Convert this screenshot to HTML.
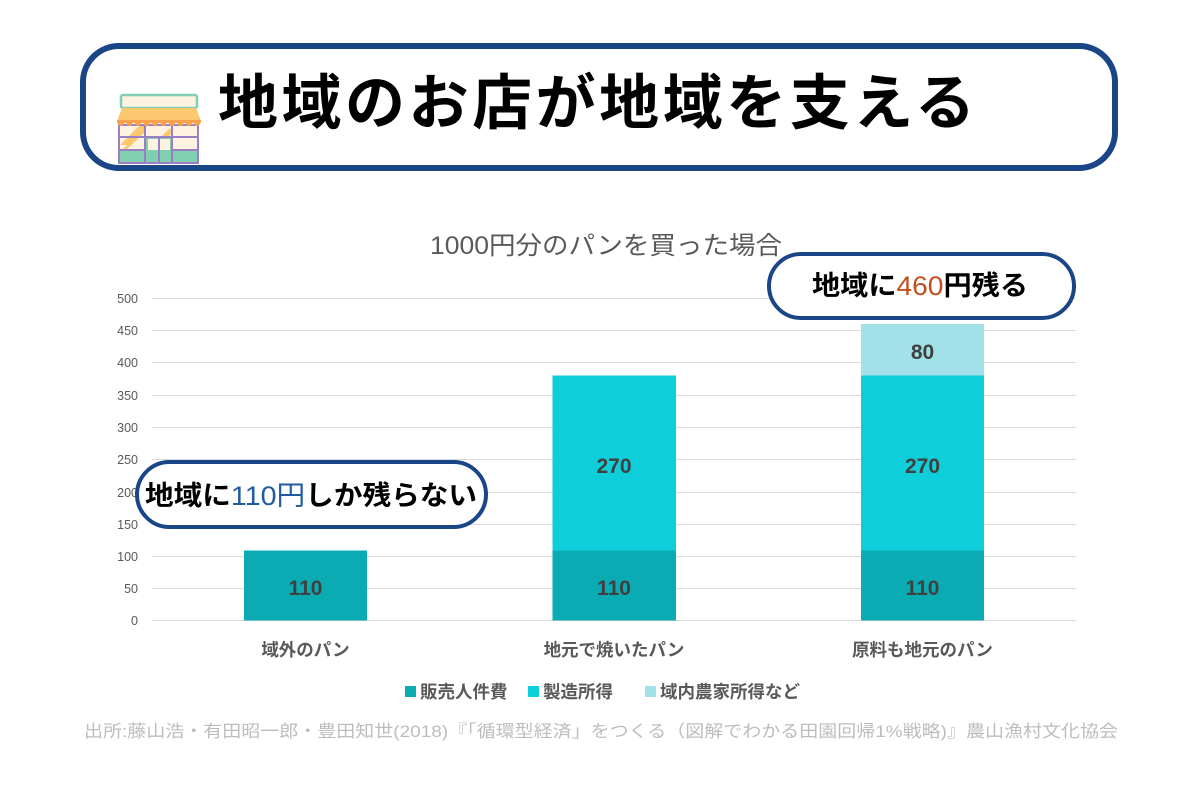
<!DOCTYPE html>
<html><head><meta charset="utf-8"><style>
html,body{margin:0;padding:0;background:#fff;}
svg{display:block;}
text{font-family:"Liberation Sans","Noto Sans CJK JP",sans-serif;}
.cjk{font-family:"Noto Sans CJK JP","Liberation Sans",sans-serif;}
</style></head><body>
<svg width="1200" height="800" viewBox="0 0 1200 800" xmlns="http://www.w3.org/2000/svg">
<rect width="1200" height="800" fill="#fff"/>
<!-- Title box -->
<rect x="83" y="46" width="1032" height="122" rx="36" ry="36" fill="#fff" stroke="#1a4587" stroke-width="6"/>
<!-- store icon -->
<g>
  <rect x="121" y="95" width="76" height="13" rx="2" fill="#fdf3e0" stroke="#7fcfb0" stroke-width="2.5"/>
  <rect x="118" y="125" width="81" height="38" fill="#fdf3e0"/>
  <polygon points="120,145 140,125 148,125 128,145" fill="#fbc870"/>
  <polygon points="120,152 146,126 146,131 124,152" fill="#fbc870"/>
  <polygon points="148,150 170,128 172,133 153,150" fill="#fbc870"/>
  <rect x="118" y="150" width="81" height="13" fill="#7fcfb0"/>
  <rect x="146" y="137" width="26" height="26" fill="#7fcfb0"/>
  <rect x="148" y="139" width="10" height="11" fill="#fdf3e0"/>
  <rect x="160" y="139" width="10" height="11" fill="#fdf3e0"/>
  <g fill="none" stroke="#9b7fc4" stroke-width="2">
    <rect x="119" y="125" width="79" height="38"/>
    <line x1="145" y1="125" x2="145" y2="163"/>
    <line x1="172" y1="125" x2="172" y2="163"/>
    <line x1="119" y1="137" x2="198" y2="137"/>
    <line x1="159" y1="137" x2="159" y2="163"/>
    <line x1="119" y1="150" x2="145" y2="150"/>
    <line x1="172" y1="150" x2="198" y2="150"/>
  </g>
  <polygon points="122,108 196,108 201,121 117,121" fill="#fbc870"/>
  <rect x="117" y="120" width="84" height="3" fill="#f7a14c"/>
  <g fill="#f7a14c">
    <circle cx="121" cy="123" r="3"/><circle cx="129.5" cy="123" r="3"/><circle cx="138" cy="123" r="3"/><circle cx="146.5" cy="123" r="3"/><circle cx="155" cy="123" r="3"/><circle cx="163.5" cy="123" r="3"/><circle cx="172" cy="123" r="3"/><circle cx="180.5" cy="123" r="3"/><circle cx="189" cy="123" r="3"/><circle cx="197" cy="123" r="3"/>
  </g>
</g>
<text class="cjk" x="218" y="124" font-size="60" font-weight="bold" fill="#000" textLength="757" lengthAdjust="spacing">地域のお店が地域を支える</text>

<!-- chart title -->
<text x="430" y="254" font-size="25" fill="#595959" textLength="352" lengthAdjust="spacingAndGlyphs">1000円分のパンを買った場合</text>

<!-- gridlines -->
<g stroke="#d9d9d9" stroke-width="1">
  <line x1="152" y1="298.5" x2="1076" y2="298.5"/>
  <line x1="152" y1="330.5" x2="1076" y2="330.5"/>
  <line x1="152" y1="362.5" x2="1076" y2="362.5"/>
  <line x1="152" y1="395.5" x2="1076" y2="395.5"/>
  <line x1="152" y1="427.5" x2="1076" y2="427.5"/>
  <line x1="152" y1="459.5" x2="1076" y2="459.5"/>
  <line x1="152" y1="492.5" x2="1076" y2="492.5"/>
  <line x1="152" y1="524.5" x2="1076" y2="524.5"/>
  <line x1="152" y1="556.5" x2="1076" y2="556.5"/>
  <line x1="152" y1="588.5" x2="1076" y2="588.5"/>
  <line x1="152" y1="620.5" x2="1076" y2="620.5"/>
</g>
<g font-size="12.5" fill="#595959" text-anchor="end">
  <text x="138" y="303">500</text>
  <text x="138" y="335">450</text>
  <text x="138" y="367">400</text>
  <text x="138" y="400">350</text>
  <text x="138" y="432">300</text>
  <text x="138" y="464">250</text>
  <text x="138" y="497">200</text>
  <text x="138" y="529">150</text>
  <text x="138" y="561">100</text>
  <text x="138" y="593">50</text>
  <text x="138" y="625">0</text>
</g>

<!-- bars -->
<rect x="244" y="550.5" width="123" height="70" fill="#0aabb3"/>
<rect x="552.5" y="550.5" width="123.5" height="70" fill="#0aabb3"/>
<rect x="552.5" y="375.5" width="123.5" height="175" fill="#0ecfd9"/>
<rect x="861" y="550.5" width="123" height="70" fill="#0aabb3"/>
<rect x="861" y="375.5" width="123" height="175" fill="#0ecfd9"/>
<rect x="861" y="324" width="123" height="51.5" fill="#a2e1e9"/>

<g font-size="21" font-weight="bold" fill="#404040" text-anchor="middle">
  <text x="305.5" y="595">110</text>
  <text x="614" y="595">110</text>
  <text x="614" y="473">270</text>
  <text x="922.5" y="595">110</text>
  <text x="922.5" y="473">270</text>
  <text x="922.5" y="359">80</text>
</g>

<!-- categories -->
<g font-size="17.5" font-weight="bold" fill="#595959" text-anchor="middle">
  <text x="305.5" y="656">域外のパン</text>
  <text x="614" y="656">地元で焼いたパン</text>
  <text x="922.5" y="656">原料も地元のパン</text>
</g>

<!-- legend -->
<rect x="405" y="686" width="11" height="11" fill="#0aabb3"/>
<text x="420" y="698" font-size="17.5" font-weight="bold" fill="#595959">販売人件費</text>
<rect x="528" y="686" width="11" height="11" fill="#0ecfd9"/>
<text x="543" y="698" font-size="17.5" font-weight="bold" fill="#595959">製造所得</text>
<rect x="645" y="686" width="11" height="11" fill="#a2e1e9"/>
<text x="660" y="698" font-size="17.5" font-weight="bold" fill="#595959">域内農家所得など</text>

<!-- footer -->
<text x="84" y="737" font-size="17" fill="#bdbdbd" textLength="1034" lengthAdjust="spacingAndGlyphs">出所:藤山浩・有田昭一郎・豊田知世(2018)『「循環型経済」をつくる（図解でわかる田園回帰1%戦略)』農山漁村文化協会</text>

<!-- callout 1 -->
<rect x="137" y="462" width="349" height="65" rx="32.5" ry="32.5" fill="#fff" stroke="#1a4587" stroke-width="4"/>
<text class="cjk" x="145" y="505" font-size="27" font-weight="bold" fill="#000" textLength="332" lengthAdjust="spacingAndGlyphs">地域に<tspan fill="#1e5ba0" font-weight="normal" font-family="Liberation Sans, Noto Sans CJK JP, sans-serif">110円</tspan>しか残らない</text>

<!-- callout 2 -->
<rect x="769" y="254" width="305" height="64" rx="32" ry="32" fill="#fff" stroke="#1a4587" stroke-width="4"/>
<text class="cjk" x="812" y="295" font-size="27" font-weight="bold" fill="#000" textLength="216" lengthAdjust="spacingAndGlyphs">地域に<tspan fill="#c0501f" font-weight="normal" font-family="Liberation Sans, Noto Sans CJK JP, sans-serif">460</tspan>円残る</text>
</svg>
</body></html>
